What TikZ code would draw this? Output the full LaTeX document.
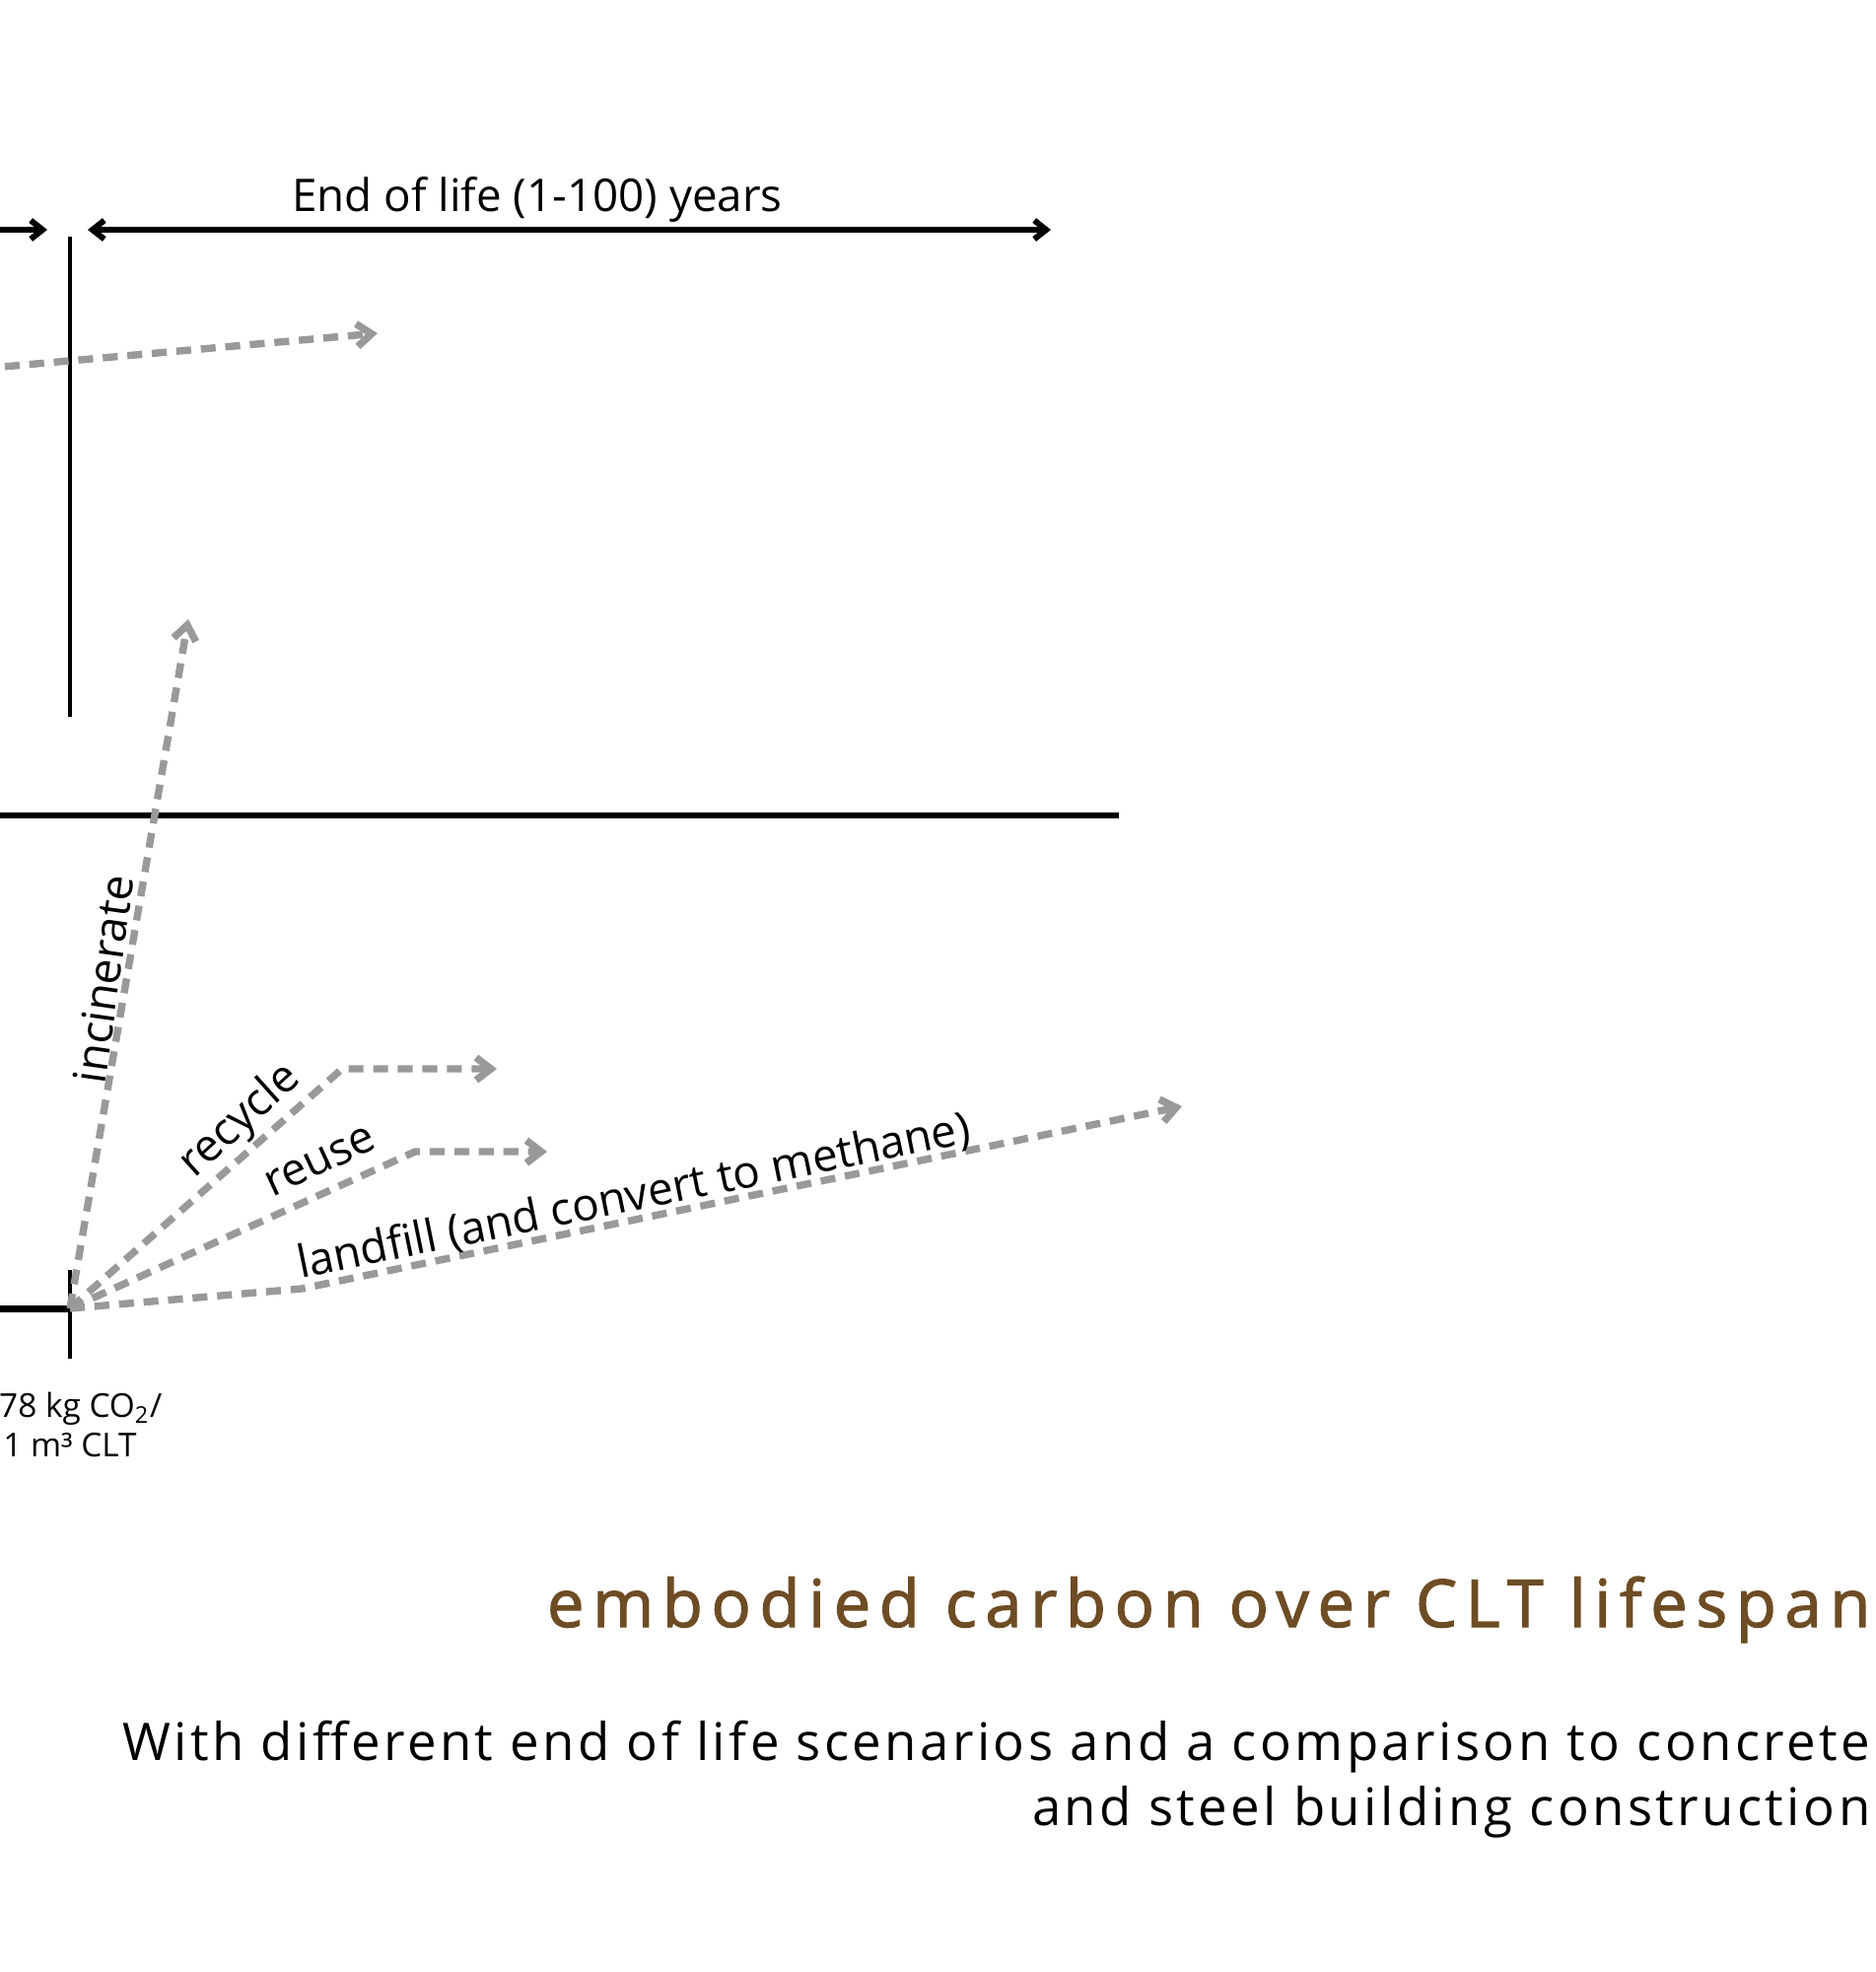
\documentclass[tikz,border=0pt]{standalone}
\usepackage{fontspec}
\setmainfont{Open Sans}
\newfontfamily\titlefont[LetterSpace=13,FakeBold=1.8]{Open Sans}
\newfontfamily\subfont[LetterSpace=6.5]{Open Sans}
\usetikzlibrary{arrows.meta}
\definecolor{dashgray}{RGB}{153,153,153}
\definecolor{titlebrown}{RGB}{110,76,36}

\begin{document}
\begin{tikzpicture}[
        x=0.1mm, y=-0.1mm,
        axis/.style={line width=1.7pt},
        dim/.style={line width=1.7pt, >={Straight Barb[length=1.2mm,width=1.9mm]}},
        route/.style={dashgray, line width=2.1pt, dash pattern=on 4.3pt off 2.8pt,
          -{Straight Barb[length=1.5mm,width=2.3mm]}},
        lbl/.style={inner sep=0pt, font=\fontsize{13}{15}\selectfont}
      ]
        % 画布范围
        \useasboundingbox (0,0) rectangle (1903,2000);
        % 定义坐标点
        \coordinate (O) at (71,1327);
        \coordinate (topL) at (-20,233);
        \coordinate (topR) at (48,233);
        \coordinate (spanL) at (89,233);
        \coordinate (spanR) at (1066,233);
        \coordinate (wallT) at (71,240);
        \coordinate (wallB) at (71,727);
        \coordinate (gridL) at (-20,827);
        \coordinate (gridR) at (1135,827);
        \coordinate (baseL) at (-20,1327);
        \coordinate (tickT) at (71,1288);
        \coordinate (tickB) at (71,1378);
        % 绘制黑色线段
        \draw[dim,->] (topL) -- (topR);
        \draw[dim,<->] (spanL) -- (spanR);
        \draw[line width=1.4pt] (wallT) -- (wallB);
        \draw[axis] (gridL) -- (gridR);
        \draw[line width=2pt] (baseL) -- (O);
        \draw[line width=1.3pt] (tickT) -- (tickB);
        % 定义灰色箭头端点
        \coordinate (carryL) at (-20,374);
        \coordinate (carryR) at (383,338);
        \coordinate (incinT) at (191,628);
        \coordinate (recycB) at (347,1084);
        \coordinate (recycT) at (504,1084);
        \coordinate (reuseB) at (421,1168);
        \coordinate (reuseT) at (555,1168);
        \coordinate (landfB) at (306,1307);
        \coordinate (landfT) at (1199,1122);
        % 绘制灰色虚线箭头
        \draw[route] (carryL) -- (carryR);
        \draw[route] (O) -- (incinT);
        \draw[route] (O) -- (recycB) -- (recycT);
        \draw[route] (O) -- (reuseB) -- (reuseT);
        \draw[route] (O) -- (landfB) -- (landfT);
        % 标记文字
        \node[lbl, anchor=base] (span) at (545,214) {End of life (1-100) years};
        \node[lbl, rotate=82] (incin) at (105,993) {incinerate};
        \node[lbl, rotate=42] (recyc) at (244,1137) {recycle};
        \node[lbl, rotate=25] (reuse) at (325,1178) {reuse};
        \node[lbl, rotate=11.5] (landf) at (643,1214) {landfill (and convert to methane)};
        \node[inner sep=0pt, anchor=base east, font=\fontsize{9.5}{11}\selectfont] (co2) at (165,1437) {778 kg CO\textsubscript{2}/};
        \node[inner sep=0pt, anchor=base, font=\fontsize{9.5}{11}\selectfont] (clt) at (71,1477) {1 m³ CLT};
        % 标题
        \node[inner sep=0pt, anchor=base east, text=titlebrown, font=\titlefont\fontsize{19}{22}\selectfont] (title) at (1898,1650) {embodied carbon over CLT lifespan};
        \node[inner sep=0pt, anchor=base east, font=\subfont\fontsize{15}{18}\selectfont] (sub1) at (1898,1785) {With different end of life scenarios and a comparison to concrete};
        \node[inner sep=0pt, anchor=base east, font=\subfont\fontsize{15}{18}\selectfont] (sub2) at (1898,1851) {and steel building construction};
      \end{tikzpicture}
\end{document}
